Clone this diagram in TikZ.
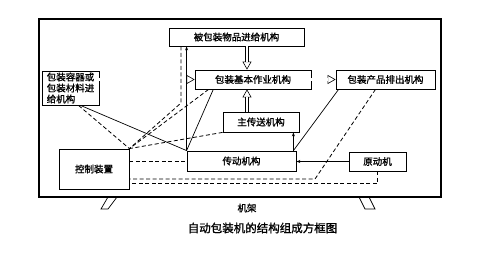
\documentclass[tikz,border=0pt]{standalone}
\usepackage{fontspec}
\newfontfamily\cjk[AutoFakeBold=1.2]{Noto Sans CJK SC}
\usetikzlibrary{calc,positioning,arrows.meta}

\begin{document}
\begin{tikzpicture}[
  x=1pt, y=-1pt,
  font=\cjk\bfseries\fontsize{9.5}{11}\selectfont,
  every node/.style={align=center},
  block/.style={rectangle, draw=black, line width=0.8pt, inner sep=1pt, fill=white},
  frame/.style={draw=black, line width=1.4pt},
  thin/.style={line width=0.7pt},
  dsh/.style={line width=0.8pt, dash pattern=on 4pt off 2.5pt},
  arrow/.style={thin, -{Stealth[length=4pt, width=3pt]}},
  dbl/.style={draw=none,
    postaction={draw, line width=0.6pt, -{Triangle[open, length=8pt, width=9pt, line width=0.6pt]}},
    postaction={draw, double, line width=0.6pt, double distance=2.4pt, shorten >=8pt}}
]
  \useasboundingbox (0,0) rectangle (484,256);

  % frame and legs
  \draw[frame] (39,19) rectangle (441,197);
  \draw[thin] (108,197) -- (117,197) -- (108,209) -- (101,209) -- cycle;
  \draw[thin] (359,197) -- (369,197) -- (375,209) -- (365,209) -- cycle;

  \node[block, minimum width=135pt, minimum height=18pt] (feed)  at (236.5,37)  {被包装物品进给机构};
  \node[block, minimum width=57pt,  minimum height=34pt, align=left] (pack) at (70.5,88) {包装容器或\\包装材料进\\给机构};
  \node[block, minimum width=116pt, minimum height=19pt] (work)  at (253,79.5)  {包装基本作业机构};
  \node[block, minimum width=99pt,  minimum height=19pt] (out)   at (385.5,79.5) {包装产品排出机构};
  \node[block, minimum width=76pt,  minimum height=20pt] (main)  at (261,122)   {主传送机构};
  \node[block, minimum width=109pt, minimum height=20pt] (drive) at (241.5,161) {传动机构};
  \node[block, minimum width=70pt,  minimum height=40pt] (ctrl)  at (94,169)    {控制装置};
  \node[block, minimum width=57pt,  minimum height=19pt] (motor) at (377.5,161.5) {原动机};

  \node (rack) at (247,208) {机架};
  \node[font=\cjk\bfseries\fontsize{11.5}{13}\selectfont] (title) at (262.5,228) {自动包装机的结构组成方框图};

  \coordinate (bend) at (181,103);
  \coordinate (kink) at (315,179);

  % material flow
  \draw[dbl] ([xshift=-6pt]work.north |- feed.south) -- ([xshift=-6pt]work.north);
  \draw[dbl] (pack.east |- work.west) -- (work.west);
  \draw[dbl] (work.east) -- (out.west);
  \draw[dbl] ([xshift=-6pt]work.south |- main.north) -- ([xshift=-6pt]work.south);

  % drive lines
  \draw[arrow] (drive.north west) -- (drive.north west |- feed.south);
  \draw[thin] ([xshift=10pt]pack.south) -- (drive.north west);
  \draw[thin] ($(work.south west)!0.16!(work.south east)$) -- (drive.north west);
  \draw[thin] ([xshift=3pt]out.south west) -- ([xshift=-3pt]drive.north east);
  \draw[arrow] ([xshift=-3pt]drive.north east) -- ([xshift=-3pt]drive.north east |- main.south);
  \draw[arrow] (motor.west) -- (motor.west -| drive.east);

  % control lines
  \draw[dsh] ([xshift=8pt]pack.south) -- (ctrl.north east);
  \draw[dsh] (bend |- feed.south) -- (bend) -- (ctrl.north east);
  \draw[dsh] ($(work.south west)!0.12!(work.south east)$) -- (ctrl.north east);
  \draw[dsh] (main.south west) -- (ctrl.north east);
  \draw[dsh] (ctrl.east |- drive.west) -- (drive.west);
  \draw[dsh] ([xshift=-10pt]out.south) -- (kink) -- (kink -| ctrl.east);
  \draw[dsh] (motor.south) -- ([yshift=-12pt]motor.south) -- ([yshift=-12pt]motor.south -| ctrl.east);
\end{tikzpicture}
\end{document}
